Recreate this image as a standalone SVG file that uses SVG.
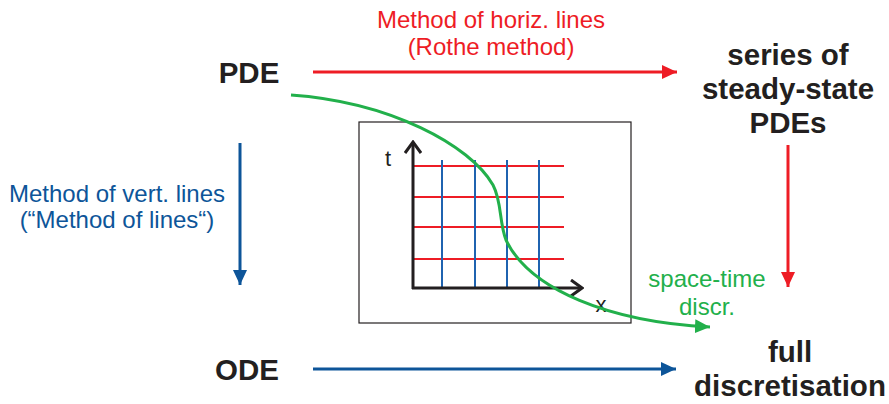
<svg xmlns="http://www.w3.org/2000/svg" width="889" height="404" viewBox="0 0 889 404">
<style>
text{font-family:"Liberation Sans",Arial,Helvetica,sans-serif}
.big{font-size:29.5px;font-weight:bold;fill:#231f20}
.lbl{font-size:24px}
.red{fill:#ee1c25}.blue{fill:#0d5599}.green{fill:#22b04b}
.grid-r{stroke:#ee1c25;stroke-width:2}
.grid-b{stroke:#1f63b0;stroke-width:2}
</style>
<defs>
<marker id="ar" markerUnits="userSpaceOnUse" markerWidth="16" markerHeight="14" refX="15" refY="7" orient="auto"><path d="M0,0 L15,7 L0,14 Z" fill="#ee1c25"/></marker>
<marker id="ab" markerUnits="userSpaceOnUse" markerWidth="16" markerHeight="14" refX="15" refY="7" orient="auto"><path d="M0,0 L15,7 L0,14 Z" fill="#0d5599"/></marker>
<marker id="ag" markerUnits="userSpaceOnUse" markerWidth="16" markerHeight="14" refX="15" refY="7" orient="auto"><path d="M0,0 L15,7 L0,14 Z" fill="#22b04b"/></marker>
<marker id="ax" markerUnits="userSpaceOnUse" markerWidth="14" markerHeight="18" refX="12" refY="9" orient="auto"><path d="M1,1 L12,9 L1,17" fill="none" stroke="#231f20" stroke-width="3"/></marker>
</defs>

<g id="pde"><text class="big" x="249" y="83" text-anchor="middle">PDE</text></g>
<g id="ode"><text class="big" x="247" y="380" text-anchor="middle">ODE</text></g>
<g id="steady"><text class="big" text-anchor="middle"><tspan x="788" y="65">series of</tspan><tspan x="788" y="99">steady-state</tspan><tspan x="788" y="133">PDEs</tspan></text></g>
<g id="full"><text class="big" text-anchor="middle"><tspan x="790" y="362">full</tspan><tspan x="790" y="396">discretisation</tspan></text></g>

<g id="grid">
<rect x="359" y="122" width="272" height="201" fill="#fff" stroke="#231f20" stroke-width="1.2"/>
<g class="grid-r">
<line x1="413" y1="166" x2="564" y2="166"/>
<line x1="413" y1="197" x2="564" y2="197"/>
<line x1="413" y1="227" x2="564" y2="227"/>
<line x1="413" y1="259" x2="564" y2="259"/>
</g>
<g class="grid-b">
<line x1="442" y1="160" x2="442" y2="288"/>
<line x1="475" y1="160" x2="475" y2="288"/>
<line x1="507" y1="160" x2="507" y2="288"/>
<line x1="539" y1="160" x2="539" y2="288"/>
</g>
<line x1="413" y1="289" x2="413" y2="142" stroke="#231f20" stroke-width="3" marker-end="url(#ax)"/>
<line x1="412" y1="288" x2="582" y2="288" stroke="#231f20" stroke-width="3" marker-end="url(#ax)"/>
<text x="388" y="166" font-size="22" fill="#231f20" text-anchor="middle">t</text>
<text x="601" y="312" font-size="22" fill="#231f20" text-anchor="middle">x</text>
</g>

<g id="connectors">
<line x1="313" y1="72" x2="677" y2="72" stroke="#ee1c25" stroke-width="3" marker-end="url(#ar)"/>
<line x1="788" y1="145" x2="788" y2="287" stroke="#ee1c25" stroke-width="3" marker-end="url(#ar)"/>
<line x1="240" y1="143" x2="240" y2="285" stroke="#0d5599" stroke-width="3" marker-end="url(#ab)"/>
<line x1="313" y1="369" x2="676" y2="369" stroke="#0d5599" stroke-width="3" marker-end="url(#ab)"/>
<path d="M291,95 C390,102 470,145 493,185 C502,202 499,222 506,240 C530,290 610,322 710,327" fill="none" stroke="#22b04b" stroke-width="3" marker-end="url(#ag)"/>
</g>

<g id="labels">
<text class="lbl red" text-anchor="middle"><tspan x="491" y="28">Method of horiz. lines</tspan><tspan x="491" y="55">(Rothe method)</tspan></text>
<text class="lbl blue" text-anchor="middle"><tspan x="117" y="202">Method of vert. lines</tspan><tspan x="117" y="228">(“Method of lines“)</tspan></text>
<text class="lbl green" text-anchor="middle"><tspan x="707" y="287">space-time</tspan><tspan x="707" y="315">discr.</tspan></text>
</g>
</svg>
